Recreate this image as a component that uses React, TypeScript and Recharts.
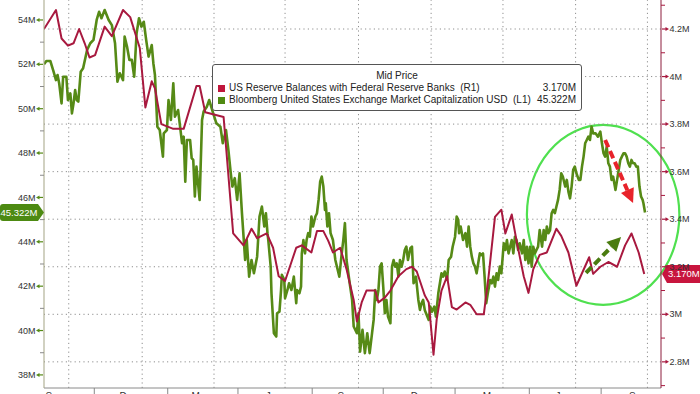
import React from 'react';
import { LineChart, Line, XAxis, YAxis, ReferenceLine, ReferenceDot, ReferenceArea } from 'recharts';

// x = days from the start of the window; values in millions
const greenPoints: [number, number][] = [
  [0,52.0],[3,52.15],[8,52.15],[12,51.67],[15,51.29],[17,51.52],[19,51.15],[22,50.24],[24,51.44],[28,51.44],[30,50.39],[33,50.69],[35,49.79],[37,50.24],[39,50.84],[41,50.39],[43,50.32],[46,51.67],[49,51.82],[54,52.65],[58,52.95],[62,53.1],[66,54.0],[69,54.37],[72,54.08],[76,54.45],[81,54.0],[85,53.77],[89,52.95],[92,51.22],[95,51.6],[99,51.29],[101,53.25],[104,52.8],[107,52.2],[110,52.2],[113,51.44],[116,53.4],[119,54.08],[122,53.7],[125,53.92],[128,53.1],[131,52.35],[135,52.87],[137,52.05],[139,51.52],[142,49.19],[145,49.04],[149,47.84],[150,48.89],[154,49.04],[156,50.39],[159,49.49],[162,51.15],[164,49.64],[168,49.94],[170,49.34],[173,48.44],[175,48.74],[177,46.71],[179,48.59],[183,48.59],[185,47.77],[187,47.69],[189,46.04],[191,47.39],[195,45.89],[198,49.49],[200,49.87],[204,50.09],[207,50.39],[212,49.79],[216,49.34],[221,49.19],[224,48.44],[228,49.04],[231,48.14],[234,47.09],[236,46.49],[239,46.87],[242,45.89],[245,47.09],[248,45.29],[252,43.18],[254,44.08],[257,42.43],[260,43.18],[263,42.58],[267,43.33],[270,45.14],[273,45.59],[276,44.69],[278,45.29],[280,44.39],[281,44.08],[284,42.88],[285,41.68],[287,40.48],[288,39.88],[291,39.73],[292,40.78],[295,40.85],[297,41.83],[298,42.51],[301,42.28],[302,41.46],[305,41.83],[307,42.13],[310,41.83],[313,42.43],[316,41.23],[317,41.83],[320,41.68],[322,41.98],[323,43.48],[325,44.08],[327,43.48],[329,44.08],[331,44.39],[333,44.23],[335,45.14],[337,44.69],[340,45.14],[342,45.29],[344,45.89],[346,46.71],[348,46.94],[350,46.49],[352,45.44],[353,45.74],[355,44.69],[357,45.29],[359,44.39],[362,44.08],[365,43.18],[368,42.73],[370,42.43],[373,43.48],[375,44.08],[377,44.84],[379,43.18],[383,42.13],[386,41.38],[388,40.18],[392,39.88],[394,40.78],[396,39.05],[399,40.03],[402,38.98],[405,39.88],[408,38.98],[411,39.88],[413,40.48],[415,41.83],[417,41.38],[419,41.83],[421,42.88],[423,43.03],[425,41.98],[427,40.78],[429,41.38],[431,40.63],[434,40.33],[436,42.88],[438,43.18],[440,42.88],[442,43.03],[444,42.43],[446,43.18],[448,42.88],[450,43.18],[452,43.63],[454,43.78],[456,43.18],[459,43.71],[461,43.78],[463,42.13],[466,42.43],[469,41.38],[471,40.93],[473,41.23],[475,41.38],[477,40.93],[482,40.48],[484,41.08],[486,40.85],[489,41.08],[491,40.63],[494,41.68],[496,42.13],[498,42.58],[500,42.43],[502,42.66],[505,42.28],[507,43.18],[510,43.33],[512,43.78],[515,44.23],[517,45.14],[519,44.99],[520,44.39],[522,44.69],[525,44.08],[528,44.39],[530,43.78],[532,44.69],[534,43.78],[536,43.33],[538,43.03],[540,42.88],[542,42.58],[544,43.03],[546,43.48],[548,43.4],[550,43.48],[552,42.43],[554,41.23],[556,41.68],[559,42.28],[561,42.13],[563,42.43],[565,41.98],[567,42.58],[569,42.28],[571,42.88],[573,42.58],[576,43.93],[578,43.63],[580,44.08],[582,43.48],[584,43.78],[586,44.08],[588,43.48],[590,44.23],[592,44.08],[594,43.63],[596,43.93],[599,43.48],[601,44.08],[603,43.18],[605,43.78],[607,43.03],[609,43.78],[611,42.88],[613,43.78],[615,43.48],[617,43.63],[619,43.78],[621,44.53],[624,43.78],[626,44.53],[628,44.08],[630,44.69],[632,44.39],[634,44.53],[636,45.29],[638,45.44],[640,45.29],[642,45.59],[644,45.89],[646,46.34],[648,47.09],[650,46.94],[653,46.49],[655,46.79],[657,46.26],[659,45.96],[661,46.49],[663,47.24],[665,47.39],[667,47.09],[670,46.79],[672,46.79],[674,47.39],[676,47.84],[678,48.44],[680,48.59],[682,48.74],[684,48.59],[686,49.19],[688,48.89],[691,48.89],[694,48.74],[697,48.97],[699,48.44],[701,47.99],[703,47.84],[705,48.29],[707,47.54],[709,47.39],[711,46.79],[713,46.94],[716,46.34],[718,46.79],[720,47.24],[722,47.69],[724,47.84],[726,47.99],[728,47.99],[730,47.84],[732,47.54],[734,47.39],[736,47.69],[738,47.54],[740,47.54],[742,47.39],[744,47.39],[746,46.49],[748,46.04],[750,45.89],[751,45.74],[753,45.322]
];

const redPoints: [number, number][] = [
  [0,4.2],[15,4.28],[22,4.16],[30,4.13],[37,4.14],[44,4.2],[51,4.14],[57,4.08],[64,4.09],[76,4.21],[85,4.17],[99,4.28],[108,4.25],[120,4.12],[127,3.87],[135,3.98],[139,3.95],[147,3.8],[162,3.78],[175,3.78],[191,3.96],[195,3.96],[202,3.85],[225,3.83],[237,3.34],[250,3.29],[260,3.36],[267,3.32],[279,3.34],[287,3.28],[294,3.16],[302,3.14],[310,3.22],[316,3.28],[323,3.29],[335,3.26],[342,3.35],[350,3.35],[356,3.31],[362,3.26],[371,3.28],[379,3.19],[388,3.06],[392,2.97],[398,3.05],[404,3.1],[415,3.1],[419,3.05],[427,3.07],[434,3.1],[444,3.16],[454,3.19],[461,3.2],[467,3.18],[477,3.08],[482,3.05],[488,2.83],[492,2.98],[498,3.1],[505,3.16],[511,3.03],[517,3.02],[528,3.05],[534,3.04],[542,3.0],[551,3.0],[557,3.16],[565,3.41],[573,3.44],[578,3.34],[586,3.42],[592,3.31],[601,3.16],[607,3.09],[613,3.19],[621,3.25],[630,3.26],[642,3.36],[648,3.33],[657,3.26],[667,3.12],[683,3.24],[688,3.17],[697,3.2],[707,3.22],[718,3.2],[728,3.29],[736,3.34],[745,3.26],[752,3.17]
];

const seriesNames = [
  'US Reserve Balances with Federal Reserve Banks  (R1)',
  'Bloomberg United States Exchange Market Capitalization USD  (L1)',
];
const legendTitle = 'Mid Price';

const xDomain = [0, 773];
const xLabelDays = [6, 99, 190, 281, 372, 464, 555, 644, 737];
const xLabels = ['S', 'D', 'M', 'J', 'S', 'D', 'M', 'J', 'S'];
const xMarkDays = [63, 155, 243, 336, 425, 515, 608, 698];
const xGridDays = [31, 123, 213, 302, 394, 485, 575, 666, 756];

const leftDomain = [37.41, 54.9];
const leftTicks = [38, 39, 40, 41, 42, 43, 44, 45, 46, 47, 48, 49, 50, 51, 52, 53, 54];
const rightDomain = [2.69, 4.322];
const rightTicks = [2.7, 2.8, 2.9, 3.0, 3.1, 3.2, 3.3, 3.4, 3.5, 3.6, 3.7, 3.8, 3.9, 4.0, 4.1, 4.2, 4.3];
const rightGrid = [2.8, 3.0, 3.2, 3.4, 3.6, 3.8, 4.0, 4.2];

// annotation anchors (data units): circle bounds and arrows
const circleDays = [605, 796];
const circleLeftVals = [41.16, 49.27];
const redArrow = [{ x: 703, y: 48.59 }, { x: 738, y: 45.75 }];
const greenArrow = [{ x: 679, y: 42.6 }, { x: 723, y: 44.22 }];

const GREEN = '#568a16';
const RED = '#a8193f';
const FONT = "'Liberation Sans', Arial, sans-serif";

const greenData = greenPoints.map(([d, v]) => ({ d, v }));
const redData = redPoints.map(([d, v]) => ({ d, v }));
const lastGreen = greenPoints[greenPoints.length - 1][1];
const lastRed = redPoints[redPoints.length - 1][1];

const LeftTick = (props: any) => {
  const { x, y, payload } = props;
  const v = Math.round(payload.value);
  if (v % 2 !== 0) return <line x1={x - 4} x2={x} y1={y} y2={y} stroke="#8a8a8a" strokeWidth={1} />;
  return (
    <g>
      <line x1={x - 5} x2={x - 1} y1={y} y2={y} stroke={GREEN} strokeWidth={1.2} />
      <path d={`M${x - 8},${y} L${x - 4.5},${y - 2} L${x - 4.5},${y + 2} Z`} fill={GREEN} />
      <text x={x - 8.5} y={y} dy="0.35em" textAnchor="end" fontSize={9} fill="#333" fontFamily={FONT}>{`${v}M`}</text>
    </g>
  );
};

const RightTick = (props: any) => {
  const { x, y, payload } = props;
  const t = Math.round(payload.value * 10);
  if (t % 2 !== 0) return <line x1={x} x2={x + 4} y1={y} y2={y} stroke={RED} strokeWidth={1} />;
  const label = `${+(t / 10).toFixed(1)}M`;
  return (
    <g>
      <line x1={x + 1} x2={x + 5} y1={y} y2={y} stroke={RED} strokeWidth={1.2} />
      <path d={`M${x + 8},${y} L${x + 4.5},${y - 2} L${x + 4.5},${y + 2} Z`} fill={RED} />
      <text x={x + 8.5} y={y} dy="0.35em" textAnchor="start" fontSize={9} fill="#333" fontFamily={FONT}>{label}</text>
    </g>
  );
};

const BottomTick = (props: any) => {
  const { x, y, payload } = props;
  const idx = xLabelDays.indexOf(payload.value);
  if (idx < 0) return <line x1={x} x2={x} y1={y - 3} y2={y + 3} stroke="#888" strokeWidth={1} />;
  return (
    <text x={x} y={y + 2} dy="0.71em" textAnchor="middle" fontSize={10} fill="#333" fontFamily={FONT}>{xLabels[idx]}</text>
  );
};

const LeftTag = (props: any) => {
  const { cx, cy } = props;
  const l = cx - 44;
  return (
    <g>
      <path d={`M${l + 3},${cy - 8.5} L${cx - 6},${cy - 8.5} L${cx},${cy} L${cx - 6},${cy + 8.5} L${l + 3},${cy + 8.5} Q${l},${cy + 8.5} ${l},${cy + 5.5} L${l},${cy - 5.5} Q${l},${cy - 8.5} ${l + 3},${cy - 8.5} Z`} fill="#4d8a12" />
      <text x={l + 19} y={cy} dy="0.35em" textAnchor="middle" fontSize={9.5} fill="#fff" fontFamily={FONT}>{`${lastGreen.toFixed(3)}M`}</text>
    </g>
  );
};

const RightTag = (props: any) => {
  const { cx, cy } = props;
  return (
    <g>
      <path d={`M${cx + 1},${cy} L${cx + 6},${cy - 9} L${cx + 39},${cy - 9} L${cx + 39},${cy + 9} L${cx + 6},${cy + 9} Z`} fill="#c8153e" />
      <text x={cx + 7} y={cy} dy="0.35em" textAnchor="start" fontSize={9.5} fill="#fff" fontFamily={FONT}>{`${lastRed.toFixed(3)}M`}</text>
    </g>
  );
};

const Ellipse = (props: any) => {
  const { x, y, width, height } = props;
  return <ellipse cx={x + width / 2} cy={y + height / 2} rx={Math.abs(width) / 2} ry={Math.abs(height) / 2} fill="none" stroke="#4fe04f" strokeWidth={2.2} />;
};

const makeArrow = (color: string) => (p: any) => {
  const { x1, y1, x2, y2 } = p;
  const dx = x2 - x1, dy = y2 - y1;
  const len = Math.hypot(dx, dy) || 1;
  const ux = dx / len, uy = dy / len;
  const head = 14, half = 7;
  const bx = x2 - ux * head, by = y2 - uy * head;
  return (
    <g>
      <line x1={x1} y1={y1} x2={bx} y2={by} stroke={color} strokeWidth={4} strokeDasharray="8 4" />
      <polygon points={`${x2},${y2} ${bx - uy * half},${by + ux * half} ${bx + uy * half},${by - ux * half}`} fill={color} />
    </g>
  );
};

const LegendBox = () => (
  <div style={{
    position: 'absolute', left: 212, top: 64, width: 370, height: 47, boxSizing: 'border-box',
    border: '1px solid #555', borderRadius: 3, background: '#fff', fontFamily: FONT, fontSize: 10,
    color: '#222', paddingTop: 5, lineHeight: '12px',
  }}>
    <div style={{ textAlign: 'center' }}>{legendTitle}</div>
    {[{ c: '#c0163c', n: seriesNames[0], v: `${lastRed.toFixed(3)}M` }, { c: '#4f8a12', n: seriesNames[1], v: `${lastGreen.toFixed(3)}M` }].map((r, i) => (
      <div key={i} style={{ display: 'flex', alignItems: 'center', paddingLeft: 5, paddingRight: 5, height: 12 }}>
        <span style={{ width: 7, height: 7, background: r.c, marginRight: 4, flex: 'none' }} />
        <span style={{ whiteSpace: 'pre', flex: 1 }}>{r.n}</span>
        <span style={{ whiteSpace: 'pre' }}>{r.v}</span>
      </div>
    ))}
  </div>
);

export default function App() {
  return (
    <div style={{ position: 'absolute', left: 0, top: 0, width: 700, height: 394, overflow: 'hidden', background: '#fff' }}>
      <LineChart width={700} height={394} margin={{ top: 0, right: 0, bottom: 0, left: 0 }}>
        <XAxis type="number" dataKey="d" domain={xDomain} allowDataOverflow ticks={[...xLabelDays, ...xMarkDays].sort((a, b) => a - b)}
          interval={0} height={6} tickSize={3} tickMargin={0} tickLine={false} tick={<BottomTick />} axisLine={{ stroke: '#8a8a8a' }} />
        <YAxis yAxisId="left" orientation="left" width={44} domain={leftDomain} allowDataOverflow ticks={leftTicks} interval={0}
          tickSize={0} tickMargin={0} tickLine={false} tick={<LeftTick />} axisLine={{ stroke: '#a3a383' }} />
        <YAxis yAxisId="right" orientation="right" width={39} domain={rightDomain} allowDataOverflow ticks={rightTicks} interval={0}
          tickSize={0} tickMargin={0} tickLine={false} tick={<RightTick />} axisLine={{ stroke: '#8c1d3d' }} />
        {rightGrid.map((v) => (
          <ReferenceLine key={`h${v}`} yAxisId="right" y={v} stroke="#8e8e8e" strokeDasharray="1.2 3.2" strokeWidth={1} />
        ))}
        {xGridDays.map((d) => (
          <ReferenceLine key={`v${d}`} yAxisId="left" x={d} stroke="#8e8e8e" strokeDasharray="1.2 3.2" strokeWidth={1} />
        ))}
        <Line yAxisId="left" data={greenData} dataKey="v" type="linear" stroke={GREEN} strokeWidth={2.6} dot={false} isAnimationActive={false} strokeLinejoin="round" />
        <Line yAxisId="right" data={redData} dataKey="v" type="linear" stroke={RED} strokeWidth={2} dot={false} isAnimationActive={false} strokeLinejoin="round" />
        <ReferenceArea yAxisId="left" x1={circleDays[0]} x2={circleDays[1]} y1={circleLeftVals[0]} y2={circleLeftVals[1]} ifOverflow="visible" shape={Ellipse} />
        <ReferenceLine yAxisId="left" segment={redArrow} ifOverflow="visible" shape={makeArrow('#e8232b')} />
        <ReferenceLine yAxisId="left" segment={greenArrow} ifOverflow="visible" shape={makeArrow('#4a7c10')} />
        <ReferenceDot yAxisId="left" x={xDomain[0]} y={lastGreen} ifOverflow="visible" shape={LeftTag} />
        <ReferenceDot yAxisId="right" x={xDomain[1]} y={lastRed} ifOverflow="visible" shape={RightTag} />
      </LineChart>
      <LegendBox />
    </div>
  );
}
